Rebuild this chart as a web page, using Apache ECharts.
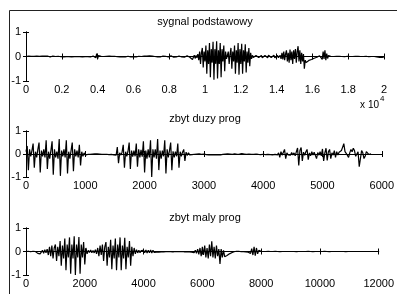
<!DOCTYPE html>
<html><head><meta charset="utf-8">
<script src="https://cdn.jsdelivr.net/npm/echarts@6/dist/echarts.min.js"></script>
<style>html,body{margin:0;padding:0;background:#fff}#c{width:397px;height:294px}</style>
</head><body><div id="c"></div><script>
// ---- data ----
const titles = ['sygnal podstawowy', 'zbyt duzy prog', 'zbyt maly prog'];
const xMax = [20000, 6000, 12000];
const xInterval = [2000, 1000, 2000];
const xLabelDivisor = [10000, 1, 1];
const exponentLabel = 'x 10';
const exponentSup = '4';
const yMin = -1, yMax = 1, yInterval = 1;
const step1 = 50, step2 = 20, step3 = 40;

const s1 = [
 0, 0.01, -0.01, 0.02, 0, -0.02, 0.01, 0.02, -0.01, 0.01,
 0, -0.01, 0.02, 0.01, -0.02, 0.01, 0.03, -0.01, 0.02, 0,
 -0.01, 0.02, 0.01, -0.01, 0.02, 0, 0.01, -0.02, 0.01, 0,
 0.02, -0.01, 0.01, 0, -0.01, 0.02, 0.01, -0.02, 0.03, -0.01,
 0.01, 0.02, -0.02, 0.01, 0, -0.01, 0.02, 0.01, -0.01, 0,
 0.02, -0.02, 0.01, 0, -0.01, 0.01, 0.02, -0.01, 0, 0.01,
 -0.01, 0.02, 0, -0.02, 0.01, 0.02, -0.01, 0, 0.01, -0.01,
 0.02, 0, -0.02, 0.03, -0.01, 0.02, 0, -0.02, -0.05, 0.12,
 -0.1, 0.04, 0.02, -0.01, 0.01, -0.02, 0.01, 0, 0.02, -0.01,
 0.01, 0, -0.01, 0.02, 0, -0.01, 0.01, 0.02, -0.02, 0.01,
 0, 0.02, -0.01, 0.01, 0, -0.02, 0.02, 0.01, -0.01, 0,
 0.01, -0.02, 0.02, 0, 0.01, -0.01, 0.02, -0.02, 0.01, 0.02,
 -0.01, 0.01, 0, -0.02, 0.03, -0.01, 0.01, 0.02, -0.02, 0,
 0.01, -0.01, 0.02, 0, -0.02, 0.02, 0.01, -0.01, 0.03, -0.02,
 0.01, 0.02, -0.03, 0.02, 0, -0.01, 0.03, -0.02, 0.01, 0.02,
 -0.02, 0.03, -0.01, 0.02, -0.03, 0.02, 0.01, -0.02, 0.03, -0.02,
 0.02, -0.03, 0.03, -0.01, 0.02, -0.03, 0.02, 0.01, -0.02, 0.03,
 -0.02, 0.02, -0.03, 0.03, -0.02, 0.01, 0.02, -0.03, 0.02, -0.01,
 0.03, -0.02, 0.02, -0.03, -0.05, -0.1, -0.12, -0.06, 0.05, -0.08,
 0.04, -0.05,
 0.1, -0.15, 0.2, -0.3, 0.15, 0.35, -0.45, 0.2, -0.2, 0.45,
 -0.7, 0.25, -0.3, 0.55, -0.85, 0.3, -0.25, 0.6, -0.95, 0.3,
 -0.3, 0.62, -0.9, 0.25, -0.3, 0.55, -0.85, 0.3, -0.2, 0.45,
 -0.6, 0.2,
 -0.1, 0.05,
 0.2, -0.3, 0.1, 0.35, -0.5, 0.2, -0.2, 0.45, -0.7, 0.25,
 -0.25, 0.55, -0.74, 0.3, -0.3, 0.52, -0.7, 0.25, -0.2, 0.5,
 -0.65, 0.2, -0.25, 0.35, -0.4, 0.15, -0.1,
 0.05, -0.04, 0.03, -0.05, 0.04, -0.03, 0.05, -0.04, 0.03, -0.03,
 0.04, -0.05, 0.03, -0.02, 0.04, -0.04, 0.03, -0.05, 0.05, -0.03,
 0.02, -0.04, 0.04, -0.03, 0.05, -0.05, 0.03, -0.04, 0.04, -0.05, 0.03,
 0.05, -0.1, 0.15, -0.12, 0.2, -0.15, 0.1, 0.25, -0.2, 0.15,
 -0.25, 0.28, -0.15, 0.2, -0.3, 0.25, -0.1, 0.3, -0.25, 0.2,
 0.42, -0.2, 0.25, -0.3, 0.15, -0.2, 0.1, -0.5,
 -0.15, -0.25, -0.18, -0.2, -0.16, -0.15, -0.13, -0.12, -0.1, -0.08,
 -0.07, -0.05, -0.04, -0.03, -0.02, -0.01,
 0.03, -0.05, 0.1, -0.12, 0.2, -0.1, 0.25, -0.15, 0.12, -0.08, 0.04, -0.02,
 0.01, 0, -0.01, 0.01, 0, 0, -0.01, 0.01, 0, 0,
 0.01, -0.01, 0, 0, 0.01, 0, -0.01, 0, 0, 0.01,
 0, -0.01, 0, 0.01, 0, 0, -0.01, 0, 0.01, 0,
 0, 0.01, 0, -0.01, 0, 0, 0.01, 0, -0.01, 0,
 0.01, 0, 0, -0.01, 0, 0.01, 0, 0, -0.01, 0,
 0, -0.01, -0.02, -0.04, -0.05, -0.04, -0.05, -0.03, -0.04, -0.03,
 -0.02
];

const s2 = [
 0.1, 0.35, -0.7, 0.2, -0.1, 0.15, 0.45, -0.6, 0.1, -0.15,
 0.2, 0.5, -0.8, 0.15, -0.1, 0.2, -0.15, 0.6, -0.65, 0.1,
 -0.2, 0.15, 0.55, -0.9, 0.2, -0.15, 0.1, -0.2, 0.65, -0.95,
 0.15, -0.1, 0.2, -0.15, 0.6, -0.85, 0.1, -0.2, 0.15, 0.5,
 -0.75, 0.2, -0.1, 0.15, -0.15, 0.4, -0.5, 0.1, -0.1, 0.05,
 -0.05,
 0.03, -0.02, 0.01, -0.01, 0.01, 0, -0.01, 0.01, 0, 0.01,
 -0.01, 0, 0.01, -0.01, 0.02, -0.02, 0.01, -0.01, 0.02, -0.03,
 0.03, -0.02, 0.04, -0.04,
 0.03, -0.05, 0.3, -0.4, 0.05, -0.05, 0.08, 0.4, -0.6, 0.1,
 -0.1, 0.12, 0.5, -0.65, 0.15, -0.12, 0.15, -0.1, 0.45, -0.55,
 0.2, -0.15, 0.18, -0.12, 0.55, -0.8, 0.15, -0.2, 0.2, -0.15,
 0.6, -1.0, 0.2, -0.15, 0.2, -0.2, 0.65, -0.7, 0.15, -0.2,
 0.15, -0.1, 0.6, -0.85, 0.2, -0.15, 0.15, 0.5, -0.7, 0.12,
 -0.15, 0.1, -0.1, 0.45, -0.6, 0.1, -0.1, 0.08, 0.2, -0.3,
 0.08, -0.06, 0.05, -0.04, 0.03, -0.03,
 0.02, -0.01, 0.01, 0, -0.01, 0.01, 0, -0.01, 0.01, 0,
 0.03, -0.03, 0.04, -0.04, 0.03, -0.04, 0.04, -0.03, 0.03, -0.04,
 0.04, -0.03, 0.03, -0.04, 0.03, -0.02, 0.01, 0, -0.01, 0.01,
 0, 0, 0.01, -0.01, 0, 0.01, 0, -0.01, 0.01, 0,
 -0.01, 0.02, -0.01, 0, 0.02, -0.02, 0.01, 0, 0.02, -0.01,
 0.03, -0.02, 0.01, 0, 0.02, -0.02, 0.03, -0.03, 0.02, -0.01,
 0.03, -0.03, 0.02, -0.02, 0.04, -0.03, 0.03, -0.04, 0.03, -0.02,
 0.04, -0.04,
 0.05, -0.15, 0.1, -0.05, 0.03, 0.2, -0.2, 0.05, -0.04, 0.03,
 -0.05, 0.06, -0.04, 0.05, -0.08, 0.1, 0.26, -0.5, 0.15, 0.28,
 -0.3, 0.08, -0.06, 0.1, 0.2, -0.25, 0.05, -0.08, 0.1, -0.05,
 0.08, 0.15, -0.2, 0.06, -0.05, 0.1, -0.08, 0.22, -0.3, 0.05,
 0.25, -0.28, 0.1, 0.2, -0.2, 0.05, -0.05, 0.15, -0.15, 0.1,
 -0.05, 0.08, 0.05, 0.15,
 0.3, 0.45, 0.1, 0.05, -0.05, -0.15, 0.05, 0.2, 0.1,
 0.25, 0.15, -0.1, -0.05, 0.1, -0.55, -0.2, 0.15, 0.05,
 -0.2, -0.1, 0.1, 0.05, -0.02, 0.02, 0.01
];

const s3 = [
 0, 0, 0.01, 0, -0.01, 0, 0.01, 0, 0, -0.01,
 -0.08, -0.15, -0.1, -0.03, 0.05, -0.08, 0.08, -0.06,
 0.1, -0.15, 0.2, -0.2, 0.25, -0.3, 0.15, 0.3, -0.4, 0.2,
 -0.2, 0.45, -0.6, 0.25, -0.3, 0.55, -0.8, 0.3, -0.25, 0.6,
 -0.95, 0.3, -0.3, 0.65, -1.0, 0.3, -0.25, 0.62, -0.95, 0.3,
 -0.25, 0.4, -0.55, 0.15,
 -0.1, 0.05, -0.04, 0.06, -0.05, 0.04, -0.06, 0.08, -0.1,
 0.15, -0.2, 0.25, -0.15, 0.3, -0.4, 0.2, 0.4, -0.6, 0.2,
 -0.25, 0.5, -0.75, 0.25, -0.3, 0.55, -0.8, 0.3, -0.25, 0.6,
 -0.8, 0.25, -0.3, 0.58, -0.75, 0.2, -0.25, 0.45, -0.6, 0.2,
 -0.2, 0.15, -0.1,
 0.08, -0.06, 0.05, -0.05, 0.04, -0.04, 0.05, -0.05, 0.06, -0.06,
 0.05, -0.05, 0.06, -0.06, 0.05, -0.04, 0.03, -0.03, 0.04, -0.03,
 0.03, -0.02, 0.02, -0.02, 0.02, -0.01, 0.01, 0, 0.01, -0.01,
 0.02, -0.02, 0.01, 0, 0.01, -0.01, 0.02, -0.01, 0.01, 0,
 0.02, -0.02, 0.01, -0.01, 0.02, -0.02, 0.03, -0.03, 0.04, -0.05,
 0.05, -0.08,
 0.1, -0.12, 0.15, -0.2, 0.2, -0.15, 0.25, -0.25, 0.15, -0.3,
 0.3, -0.2, 0.43, -0.25, 0.2, -0.3, 0.25, -0.2, 0.1, -0.53,
 0.1, -0.25, 0.05, -0.22,
 -0.2, -0.17, -0.14, -0.1, -0.07, -0.05, -0.03, -0.01,
 0, 0.01, -0.01, 0.01, 0, -0.01, 0.02, -0.01, 0.01, -0.02, 0.03, -0.03, 0.05,
 -0.08, 0.12, -0.15, 0.2, -0.18, 0.15, -0.1, 0.05,
 0, 0.01, 0, 0, -0.01, 0, 0, 0.01, 0, 0,
 -0.01, 0, 0, 0.01, 0, 0, 0, -0.01, 0, 0,
 0.01, 0, 0, 0, -0.01, 0, 0.01, 0, 0, 0,
 0, -0.01, 0, 0, 0.01, 0, 0, 0, -0.01, 0,
 0, 0.01, 0, 0, 0, -0.01, 0, 0, 0.01, 0,
 0, 0, -0.01, 0, 0, 0.01, 0, 0, 0, -0.01,
 0, 0, 0.01, 0, 0, 0, -0.01, 0, 0, 0,
 0.01, 0, 0, -0.01, 0, 0, -0.01, 0
];

const signals = [s1, s2, s3];
const steps = [step1, step2, step3];

// ---- layout / style ----
const FONT = 'Liberation Sans';
const grids = [
  {left: 26, right: 13, top: 32, height: 49},
  {left: 26, right: 13, top: 131, height: 46},
  {left: 26, right: 13, top: 228, height: 47}
];
const titleY = [22, 119, 218];
const axisLineStyle = {color: '#000', width: 1};
const xAxes = [], yAxes = [], series = [];
grids.forEach((g, i) => {
  const fmt = v => String(+(v / xLabelDivisor[i]).toFixed(4));
  xAxes.push({
    type: 'value', gridIndex: i, min: 0, max: xMax[i], interval: xInterval[i], position: 'bottom',
    axisLine: {show: true, lineStyle: axisLineStyle},
    axisTick: {show: true, inside: true, length: 3, lineStyle: axisLineStyle},
    axisLabel: {show: true, margin: 3, fontSize: 11, fontFamily: FONT, color: '#000', formatter: fmt, showMinLabel: true, showMaxLabel: true},
    splitLine: {show: false}
  });
  xAxes.push({
    type: 'value', gridIndex: i, min: 0, max: xMax[i], interval: xInterval[i], position: 'top',
    axisLine: {show: true, lineStyle: axisLineStyle},
    axisTick: {show: true, inside: true, length: 3, lineStyle: axisLineStyle},
    axisLabel: {show: false}, splitLine: {show: false}
  });
  yAxes.push({
    type: 'value', gridIndex: i, min: yMin, max: yMax, interval: yInterval, position: 'left',
    axisLine: {show: true, lineStyle: axisLineStyle},
    axisTick: {show: true, inside: true, length: 3, lineStyle: axisLineStyle},
    axisLabel: {show: true, margin: 5, fontSize: 11, fontFamily: FONT, color: '#000'},
    splitLine: {show: false}
  });
  yAxes.push({
    type: 'value', gridIndex: i, min: yMin, max: yMax, interval: yInterval, position: 'right',
    axisLine: {show: true, lineStyle: axisLineStyle},
    axisTick: {show: true, inside: true, length: 3, lineStyle: axisLineStyle},
    axisLabel: {show: false}, splitLine: {show: false}
  });
  series.push({
    type: 'line', xAxisIndex: i * 2, yAxisIndex: i * 2,
    data: signals[i].map((v, k) => [k * steps[i], v]),
    showSymbol: false, symbol: 'none', silent: true,
    lineStyle: {color: '#000', width: 1.2}, clip: true
  });
});

const graphic = [
  {type: 'rect', shape: {x: 9.5, y: 10.5, width: 420, height: 320}, style: {fill: 'none', stroke: '#222', lineWidth: 1}, silent: true}
];
titles.forEach((t, i) => {
  graphic.push({type: 'text', x: 205, y: titleY[i], style: {text: t, fontSize: 11, fontFamily: FONT, fill: '#000', textAlign: 'center', textVerticalAlign: 'middle'}});
});
graphic.push({type: 'text', x: 379, y: 105, style: {text: exponentLabel, fontSize: 10, fontFamily: FONT, fill: '#000', textAlign: 'right', textVerticalAlign: 'middle'}});
graphic.push({type: 'text', x: 380, y: 99, style: {text: exponentSup, fontSize: 8, fontFamily: FONT, fill: '#000', textAlign: 'left', textVerticalAlign: 'middle'}});

const chart = echarts.init(document.getElementById('c'), null, {renderer: 'canvas'});
chart.setOption({
  animation: false,
  backgroundColor: '#fff',
  grid: grids,
  xAxis: xAxes,
  yAxis: yAxes,
  series: series,
  graphic: graphic
});
</script></body></html>
